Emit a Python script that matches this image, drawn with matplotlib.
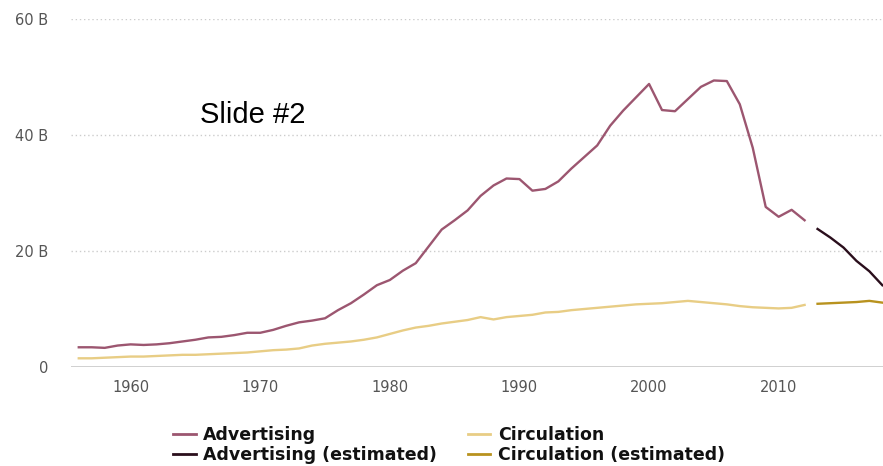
import matplotlib
matplotlib.use("Agg")
import matplotlib.pyplot as plt
from matplotlib.lines import Line2D

years = list(range(1956, 2013))
advertising = [3.4, 3.4, 3.3, 3.7, 3.9, 3.8, 3.9, 4.1, 4.4, 4.7,
               5.1, 5.2, 5.5, 5.9, 5.9, 6.4, 7.1, 7.7, 8.0, 8.4,
               9.8, 11.0, 12.5, 14.1, 15.0, 16.6, 17.9, 20.8, 23.7, 25.3,
               27.0, 29.5, 31.3, 32.5, 32.4, 30.4, 30.7, 32.0, 34.2, 36.2,
               38.2, 41.6, 44.2, 46.5, 48.8, 44.3, 44.1, 46.2, 48.3, 49.4,
               49.3, 45.3, 37.8, 27.6, 25.9, 27.1, 25.3]
circulation = [1.5, 1.5, 1.6, 1.7, 1.8, 1.8, 1.9, 2.0, 2.1, 2.1,
               2.2, 2.3, 2.4, 2.5, 2.7, 2.9, 3.0, 3.2, 3.7, 4.0,
               4.2, 4.4, 4.7, 5.1, 5.7, 6.3, 6.8, 7.1, 7.5, 7.8,
               8.1, 8.6, 8.2, 8.6, 8.8, 9.0, 9.4, 9.5, 9.8, 10.0,
               10.2, 10.4, 10.6, 10.8, 10.9, 11.0, 11.2, 11.4, 11.2, 11.0,
               10.8, 10.5, 10.3, 10.2, 10.1, 10.2, 10.7]
est_years = [2013, 2014, 2015, 2016, 2017, 2018]
advertising_est = [23.8, 22.3, 20.6, 18.3, 16.5, 14.1]
circulation_est = [10.9, 11.0, 11.1, 11.2, 11.4, 11.1]

y_ticks = [0, 20, 40, 60]
y_labels = ["0", "20 B", "40 B", "60 B"]
x_ticks = [1960, 1970, 1980, 1990, 2000, 2010]
series_names = ["Advertising", "Advertising (estimated)",
                "Circulation", "Circulation (estimated)"]

c_adv = "#9c5670"
c_adv_est = "#2a0e1c"
c_circ = "#e8cd85"
c_circ_est = "#b8921e"

W, H = 883, 466
fig = plt.figure(figsize=(W / 100, H / 100), dpi=100)
ax = fig.add_axes([71 / W, 1 - 367 / H, (883 - 71) / W, (367 - 19) / H])
ax.set_xlim(1955.4, 2018.05)
ax.set_ylim(0, 60)

for s in ax.spines.values():
    s.set_visible(False)
for v in y_ticks[1:]:
    ax.axhline(v, color="#cccccc", lw=1, ls=(0, (1, 2)), zorder=0)
ax.axhline(0, color="#c8c8c8", lw=1.2, zorder=0)

ax.plot(years, advertising, color=c_adv, lw=1.7, solid_joinstyle="round")
ax.plot(est_years, advertising_est, color=c_adv_est, lw=1.7, solid_joinstyle="round")
ax.plot(years, circulation, color=c_circ, lw=1.7, solid_joinstyle="round")
ax.plot(est_years, circulation_est, color=c_circ_est, lw=1.7, solid_joinstyle="round")

ax.set_yticks(y_ticks)
ax.set_yticklabels(y_labels)
ax.set_xticks(x_ticks)
ax.tick_params(axis="both", length=0, colors="#555555", labelsize=10.5)
ax.tick_params(axis="y", pad=16.5)
ax.tick_params(axis="x", pad=9)

handles = [Line2D([], [], color=c, lw=2) for c in [c_adv, c_adv_est, c_circ, c_circ_est]]
leg = fig.legend(handles, series_names, ncol=2, loc="upper left",
                 bbox_to_anchor=(173 / W, 1 - 426 / H), frameon=False,
                 prop={"weight": "bold", "size": 12.5},
                 handlelength=1.3, handletextpad=0.45, columnspacing=1.75,
                 labelspacing=0.1, borderpad=0, borderaxespad=0)
for t in leg.get_texts():
    t.set_color("#111111")

fig.text(200 / W, 1 - 123 / H, "Slide #2", fontsize=21,
         family="Liberation Sans", color="#000000", va="baseline", ha="left")

fig.savefig("out.png", dpi=100)
